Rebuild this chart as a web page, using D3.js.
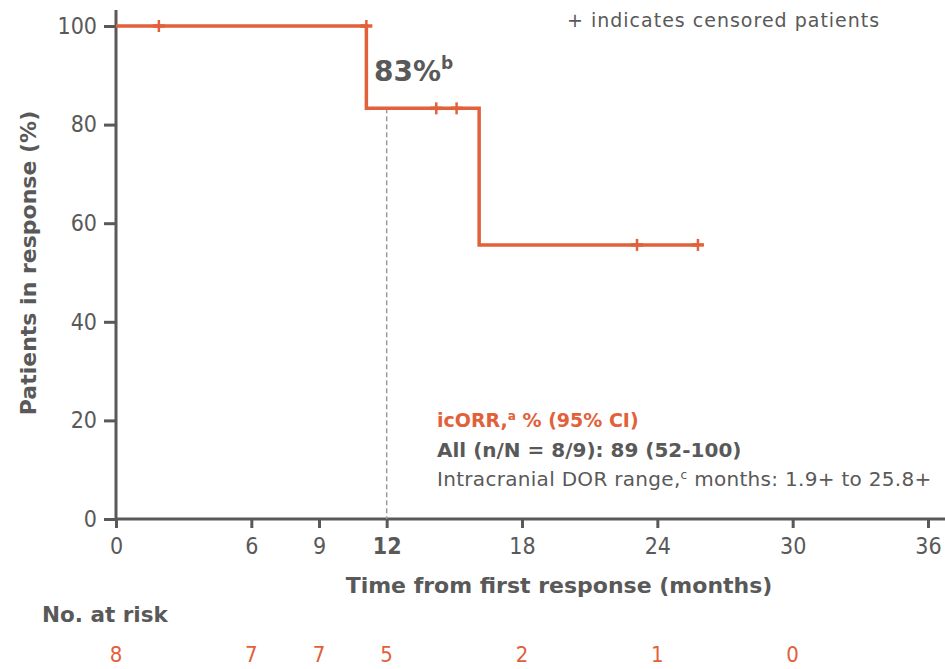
<!DOCTYPE html>
<html><head><meta charset="utf-8">
<script src="https://cdn.jsdelivr.net/npm/d3@7"></script>
<style>body{margin:0;background:#fff}svg{display:block}text{font-family:"DejaVu Sans",sans-serif}</style>
</head><body><svg id="c" width="945" height="669"></svg>
<script>
// KM step data
const stepTimes = [0, 11.1, 16.1, 25.8];
const stepValues = [100, 83.3, 55.6, 55.6];
const censorTimes = [1.9, 11.1, 14.2, 15.1, 23.1, 25.8];
const censorValues = [100, 100, 83.3, 83.3, 55.6, 55.6];
const xTicks = [0, 6, 9, 12, 18, 24, 30, 36];
const yTicks = [0, 20, 40, 60, 80, 100];
const riskTimes = [0, 6, 9, 12, 18, 24, 30];
const riskCounts = [8, 7, 7, 5, 2, 1, 0];
const landmarkTime = 12, landmarkValue = 83.3;

const orange = "#E2603A", grey = "#595959";
const cond = "'DejaVu Sans Condensed','DejaVu Sans',sans-serif";
const svg = d3.select("#c");
const x = d3.scaleLinear().domain([0, 36]).range([116, 928]);
const y = d3.scaleLinear().domain([0, 100]).range([519, 26]);

// axes
const xAxis = svg.append("g").attr("transform", `translate(0,${y(0)})`)
  .call(d3.axisBottom(x).tickValues(xTicks).tickSize(9).tickPadding(10).tickSizeOuter(0));
const yAxis = svg.append("g").attr("transform", `translate(${x(0)},0)`)
  .call(d3.axisLeft(y).tickValues(yTicks).tickSize(12).tickPadding(7).tickSizeOuter(0));
[xAxis, yAxis].forEach(g => {
  g.select(".domain").remove();
  g.selectAll("line").attr("stroke", grey).attr("stroke-width", 3);
  g.selectAll("text").attr("fill", grey).style("font-size", "23px").style("font-family", cond);
});
xAxis.selectAll("text").filter(d => d === 12).style("font-weight", "bold");
svg.append("line").attr("x1", 116).attr("x2", 945).attr("y1", y(0)).attr("y2", y(0)).attr("stroke", grey).attr("stroke-width", 3);
svg.append("line").attr("x1", x(0)).attr("x2", x(0)).attr("y1", 10).attr("y2", y(0)+1).attr("stroke", grey).attr("stroke-width", 3);

// landmark dashed line
svg.append("line").attr("x1", x(landmarkTime)).attr("x2", x(landmarkTime))
  .attr("y1", y(landmarkValue)).attr("y2", y(0)).attr("stroke", "#9a9a9a").attr("stroke-width", 1.5).attr("stroke-dasharray", "5,3");

// KM curve
const pts = stepTimes.map((t, i) => [t, stepValues[i]]);
const line = d3.line().x(d => x(d[0])).y(d => y(d[1])).curve(d3.curveStepAfter);
svg.append("path").attr("d", line(pts)).attr("fill", "none").attr("stroke", orange).attr("stroke-width", 3.5);
svg.selectAll(".cens").data(censorTimes).enter().append("line")
  .attr("x1", d => x(d)).attr("x2", d => x(d))
  .attr("y1", (d, i) => y(censorValues[i]) - 6).attr("y2", (d, i) => y(censorValues[i]) + 6)
  .attr("stroke", orange).attr("stroke-width", 2.5);
svg.selectAll(".censh").data(censorTimes).enter().append("line")
  .attr("x1", d => x(d) - 6).attr("x2", d => x(d) + 6)
  .attr("y1", (d, i) => y(censorValues[i])).attr("y2", (d, i) => y(censorValues[i]))
  .attr("stroke", orange).attr("stroke-width", 3.5);

// labels
const ymid = 263;
svg.append("text").attr("x", 28).attr("y", ymid).attr("transform", `rotate(-90,28,${ymid})`)
  .attr("text-anchor", "middle").attr("dy", "0.35em").attr("fill", grey).style("font-size", "22px").style("font-weight", "bold")
  .text("Patients in response (%)");
svg.append("text").attr("x", 559).attr("y", 593).attr("text-anchor", "middle").attr("fill", grey)
  .style("font-size", "22px").style("font-weight", "bold").text("Time from first response (months)");
svg.append("text").attr("x", 42).attr("y", 622).attr("fill", grey).style("font-size", "21.5px").style("font-weight", "bold").text("No. at risk");
svg.selectAll(".risk").data(riskTimes).enter().append("text")
  .attr("x", d => x(d)).attr("y", 662).attr("text-anchor", "middle").attr("fill", orange)
  .style("font-size", "22px").style("font-family", cond)
  .text((d, i) => riskCounts[i]);

const t83 = svg.append("text").attr("x", 374).attr("y", 81).attr("fill", grey).style("font-size", "28px").style("font-weight", "bold");
t83.append("tspan").text("83%");
t83.append("tspan").attr("dy", -12).style("font-size", "17px").text("b");

svg.append("text").attr("x", 567).attr("y", 27).attr("fill", grey).style("font-size", "19px").style("letter-spacing", "1px").text("+ indicates censored patients");

const a1 = svg.append("text").attr("x", 437).attr("y", 427).attr("fill", orange).style("font-size", "19px").style("font-weight", "bold");
a1.append("tspan").text("icORR,");
a1.append("tspan").attr("dy", -7).style("font-size", "12px").text("a");
a1.append("tspan").attr("dy", 7).text(" % (95% CI)");
svg.append("text").attr("x", 437).attr("y", 457).attr("fill", grey).style("font-size", "20px").style("font-weight", "bold").text("All (n/N = 8/9): 89 (52-100)");
const a3 = svg.append("text").attr("x", 437).attr("y", 486).attr("fill", grey).style("font-size", "20px").style("letter-spacing", "0.3px");
a3.append("tspan").text("Intracranial DOR range,");
a3.append("tspan").attr("dy", -7).style("font-size", "12px").text("c");
a3.append("tspan").attr("dy", 7).text(" months: 1.9+ to 25.8+");
</script></body></html>
